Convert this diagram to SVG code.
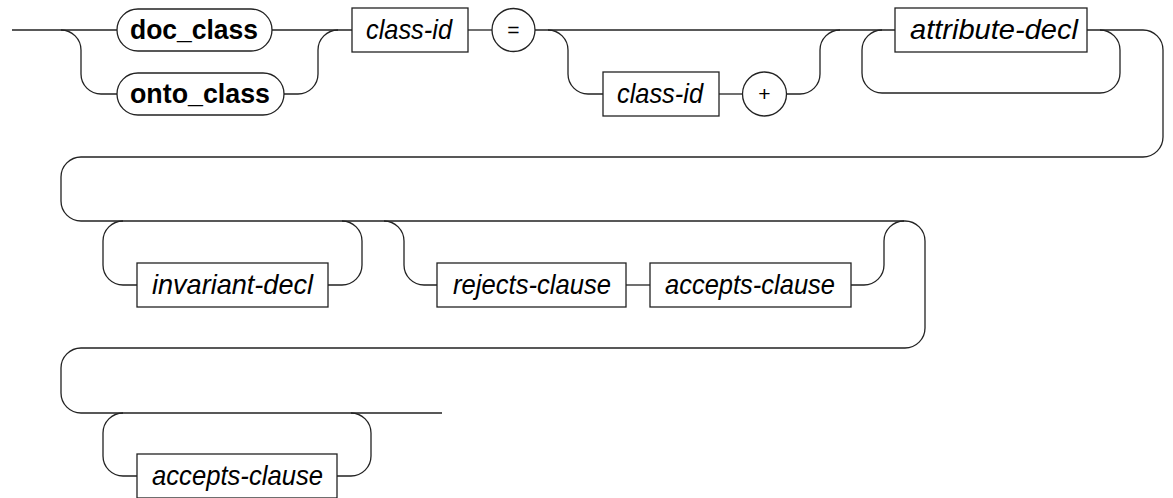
<svg xmlns="http://www.w3.org/2000/svg" width="1173" height="498" viewBox="0 0 1173 498">
<style>
.ln{fill:none;stroke:#222;stroke-width:1.3}
.bx{fill:#fff;stroke:#222;stroke-width:1.3}
.nt{font-family:"Liberation Sans",Arial,sans-serif;font-style:italic;font-size:28px;fill:#000;text-anchor:middle}
.tm{font-family:"Liberation Sans",Arial,sans-serif;font-weight:bold;font-size:28px;fill:#000;text-anchor:middle}
.op{font-family:"Liberation Sans",Arial,sans-serif;font-size:21px;fill:#000;text-anchor:middle}
</style>
<rect width="1173" height="498" fill="#fff"/>
<g id="connectors" class="ln">
<path d="M12,30 H117"/>
<path d="M61,30 A20,20 0 0 1 81,50 V74 A20,20 0 0 0 101,94 H117"/>
<path d="M272,30 H352"/>
<path d="M284,94 H298 A20,20 0 0 0 318,74 V50 A20,20 0 0 1 338,30"/>
<path d="M468,30 H492"/>
<path d="M535,30 H895"/>
<path d="M548,30 A20,20 0 0 1 568,50 V74 A20,20 0 0 0 588,94 H603"/>
<path d="M719,94 H742"/>
<path d="M787,94 H800 A20,20 0 0 0 820,74 V50 A20,20 0 0 1 840,30"/>
<path d="M882,30 A20,20 0 0 0 862,50 V73 A20,20 0 0 0 882,93 H1100 A20,20 0 0 0 1120,73 V50 A20,20 0 0 0 1100,30"/>
<path d="M1087,30 H1143 A20,20 0 0 1 1163,50 V137 A20,20 0 0 1 1143,157 H81 A20,20 0 0 0 61,177 V201 A20,20 0 0 0 81,221 H905 A20,20 0 0 1 925,241 V328 A20,20 0 0 1 905,348 H81 A20,20 0 0 0 61,368 V393 A20,20 0 0 0 81,413 H442"/>
<path d="M123,221 A20,20 0 0 0 103,241 V265 A20,20 0 0 0 123,285 H137"/>
<path d="M328,285 H342 A20,20 0 0 0 362,265 V241 A20,20 0 0 0 342,221"/>
<path d="M384,221 A20,20 0 0 1 404,241 V265 A20,20 0 0 0 424,285 H437"/>
<path d="M626,285 H650"/>
<path d="M851,285 H864 A20,20 0 0 0 884,265 V241 A20,20 0 0 1 904,221"/>
<path d="M123,413 A20,20 0 0 0 103,433 V456 A20,20 0 0 0 123,476 H137"/>
<path d="M337,476 H351 A20,20 0 0 0 371,456 V433 A20,20 0 0 0 351,413"/>
</g>
<g id="doc_class"><rect class="bx" x="117" y="9" width="155" height="42" rx="21" ry="21"/><text class="tm" x="194" y="39" textLength="128" lengthAdjust="spacingAndGlyphs">doc_class</text></g>
<g id="onto_class"><rect class="bx" x="117" y="73" width="167" height="42" rx="21" ry="21"/><text class="tm" x="200" y="103" textLength="140" lengthAdjust="spacingAndGlyphs">onto_class</text></g>
<g id="class-id-1"><rect class="bx" x="352" y="8" width="116" height="44"/><text class="nt" x="409" y="39" textLength="86" lengthAdjust="spacingAndGlyphs">class-id</text></g>
<g id="eq"><circle class="bx" cx="513.5" cy="30" r="21.5"/><text class="op" x="513.5" y="37">=</text></g>
<g id="class-id-2"><rect class="bx" x="603" y="72" width="116" height="44"/><text class="nt" x="660" y="103" textLength="86" lengthAdjust="spacingAndGlyphs">class-id</text></g>
<g id="plus"><circle class="bx" cx="764.5" cy="94" r="22"/><text class="op" x="764.5" y="101">+</text></g>
<g id="attribute-decl"><rect class="bx" x="895" y="8" width="192" height="44"/><text class="nt" x="994" y="39" textLength="168" lengthAdjust="spacingAndGlyphs">attribute-decl</text></g>
<g id="invariant-decl"><rect class="bx" x="137" y="263" width="191" height="44"/><text class="nt" x="232.5" y="294" textLength="161" lengthAdjust="spacingAndGlyphs">invariant-decl</text></g>
<g id="rejects-clause"><rect class="bx" x="437" y="263" width="189" height="44"/><text class="nt" x="532" y="294" textLength="158" lengthAdjust="spacingAndGlyphs">rejects-clause</text></g>
<g id="accepts-clause-1"><rect class="bx" x="650" y="263" width="201" height="44"/><text class="nt" x="750" y="294" textLength="170" lengthAdjust="spacingAndGlyphs">accepts-clause</text></g>
<g id="accepts-clause-2"><rect class="bx" x="137" y="454" width="200" height="44"/><text class="nt" x="237.5" y="485" textLength="171" lengthAdjust="spacingAndGlyphs">accepts-clause</text></g>
</svg>
